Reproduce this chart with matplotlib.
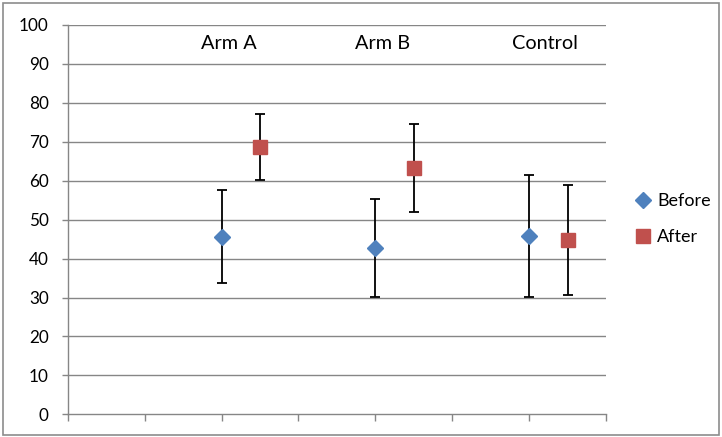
import matplotlib.pyplot as plt
from matplotlib.patches import Rectangle

plt.rcParams["font.family"] = ["Lato", "DejaVu Sans"]

groups = ["Arm A", "Arm B", "Control"]
x_before = [2, 4, 6]
x_after = [2.5, 4.5, 6.5]
before = [45.5, 42.8, 45.8]
before_lo = [33.7, 30.2, 30.2]
before_hi = [57.5, 55.4, 61.5]
after = [68.6, 63.3, 44.8]
after_lo = [60.2, 52.0, 30.6]
after_hi = [77.1, 74.6, 58.8]
label_x = [2.1, 4.1, 6.2]

fig = plt.figure(figsize=(7.22, 4.37), dpi=100)
ax = fig.add_axes([0.0938, 0.0519, 0.7455, 0.891])

grid_col = "#868686"
for v in range(10, 101, 10):
    ax.axhline(v, color=grid_col, lw=1.0, zorder=0)

# error bars first, markers on top
b_err = [[b - l for b, l in zip(before, before_lo)], [h - b for b, h in zip(before, before_hi)]]
a_err = [[a - l for a, l in zip(after, after_lo)], [h - a for a, h in zip(after, after_hi)]]
ax.errorbar(x_before, before, yerr=b_err, fmt="none", ecolor="black", elinewidth=1.3, capsize=3.8, capthick=1.3, zorder=2)
ax.errorbar(x_after, after, yerr=a_err, fmt="none", ecolor="black", elinewidth=1.3, capsize=3.8, capthick=1.3, zorder=2)
ax.plot(x_before, before, "D", color="#4F81BD", ms=8.2, mec="#4F81BD", ls="none", label="Before", zorder=3)
ax.plot(x_after, after, "s", color="#C0504D", ms=10.5, mec="#C0504D", ls="none", label="After", zorder=3)

for x, g in zip(label_x, groups):
    ax.text(x, 95.2, g, ha="center", va="center", fontsize=14.3, color="black")

ax.set_xlim(0, 7)
ax.set_ylim(0, 100)
ax.set_xticks(range(0, 8))
ax.set_xticklabels([])
ax.set_yticks(range(0, 101, 10))
ax.tick_params(axis="y", labelsize=12.3, length=4.3, width=1, color=grid_col, pad=9.3)
ax.tick_params(axis="x", length=5, width=1, color=grid_col)
for s in ["top", "right"]:
    ax.spines[s].set_visible(False)
for s in ["left", "bottom"]:
    ax.spines[s].set_color(grid_col)
    ax.spines[s].set_linewidth(1.0)

fig.legend(loc="center left", bbox_to_anchor=(0.878, 0.498), frameon=False, fontsize=13,
           handlelength=1.0, handletextpad=0.3, borderpad=0, borderaxespad=0, labelspacing=1.1)

fig.patches.append(Rectangle((0.004, 0.004), 0.992, 0.99, transform=fig.transFigure,
                             fill=False, edgecolor="#8c8c8c", lw=1.2))

plt.savefig("out.png", dpi=100)
